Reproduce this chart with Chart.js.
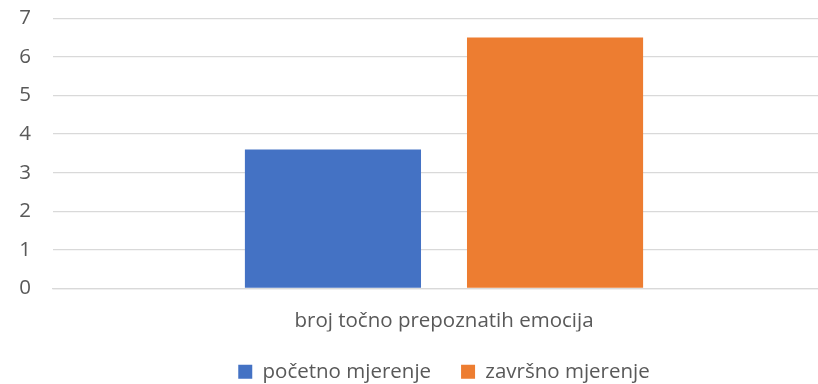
<!DOCTYPE html>
<html>
<head>
<meta charset="utf-8">
<script src="https://cdn.jsdelivr.net/npm/chart.js@4"></script>
<style>
  html, body { margin: 0; padding: 0; background: #fff; overflow: hidden; }
  #clip { width: 818px; height: 384px; overflow: hidden; }
  #wrap { position: relative; width: 870px; height: 408px; margin-top: -16px; }
</style>
</head>
<body>
<div id="clip"><div id="wrap"><canvas id="c"></canvas></div></div>
<script>
const categories = ['broj točno prepoznatih emocija'];
const seriesNames = ['početno mjerenje', 'završno mjerenje'];
const pocetno = [3.6];
const zavrsno = [6.5];
const yTicks = [0, 1, 2, 3, 4, 5, 6, 7];

const FONT = 'Open Sans';
const SIZE = 20.5;
const GREY = '#595959';
const GRID = '#d9d9d9';

// centre the legend under the plot area rather than the whole canvas
const legendUnderPlot = {
  id: 'legendUnderPlot',
  beforeDraw(chart) {
    const lg = chart.legend;
    if (lg) { lg.left = chart.chartArea.left; lg.right = chart.chartArea.right; }
  }
};

new Chart(document.getElementById('c'), {
  type: 'bar',
  data: {
    labels: categories,
    datasets: [
      { label: seriesNames[0], data: pocetno, backgroundColor: '#4472c4',
        categoryPercentage: 0.568, barPercentage: 0.793 },
      { label: seriesNames[1], data: zavrsno, backgroundColor: '#ed7d31',
        categoryPercentage: 0.568, barPercentage: 0.793 }
    ]
  },
  plugins: [legendUnderPlot],
  options: {
    responsive: true,
    maintainAspectRatio: false,
    animation: false,
    layout: { padding: { top: 0, right: 35, bottom: 0, left: 0 } },
    plugins: {
      legend: {
        position: 'bottom',
        labels: {
          boxWidth: 14, boxHeight: 14, padding: 30,
          color: GREY, font: { family: FONT, size: SIZE }
        }
      },
      tooltip: { enabled: false }
    },
    scales: {
      x: {
        afterFit: (s) => { s.height = 43; },
        grid: { display: false, drawTicks: false },
        border: { display: true, color: GRID, width: 1.3 },
        ticks: { color: GREY, font: { family: FONT, size: SIZE }, padding: 20 }
      },
      y: {
        min: 0, max: 7,
        afterFit: (s) => { s.width = 53; },
        afterBuildTicks: (s) => { s.ticks = yTicks.map(v => ({ value: v })); },
        grid: { color: GRID, lineWidth: 1.3, drawTicks: false },
        border: { display: false },
        ticks: { color: GREY, font: { family: FONT, size: SIZE }, padding: 22 }
      }
    }
  }
});
</script>
</body>
</html>
